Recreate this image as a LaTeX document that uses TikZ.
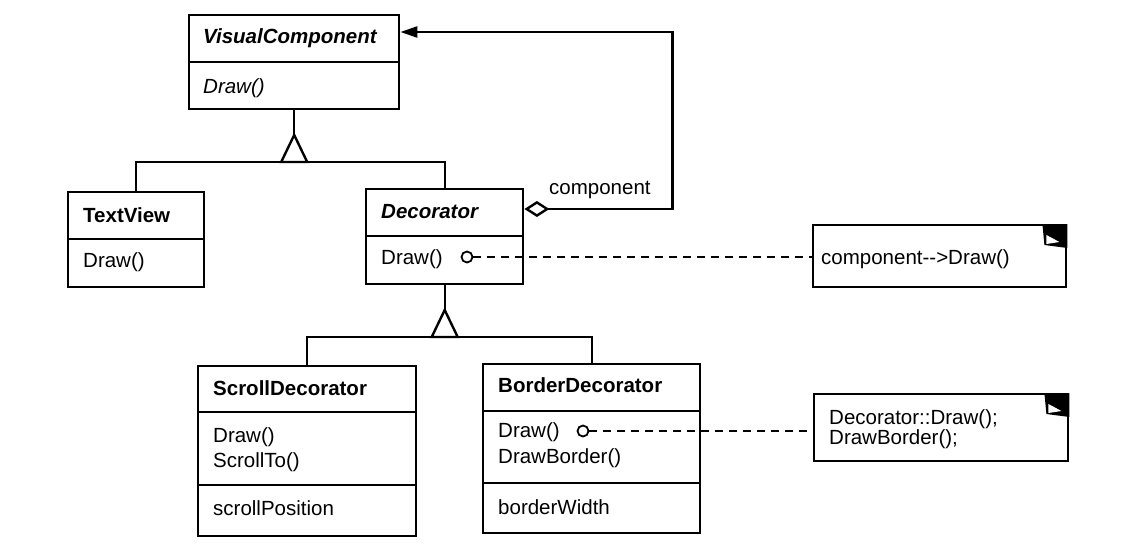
\documentclass[tikz,border=0pt]{standalone}
\usepackage{fontspec}
\setmainfont{Liberation Sans}
\usetikzlibrary{positioning,arrows.meta,calc}

\newcommand{\umlfont}{\fontsize{20.5pt}{25pt}\selectfont}
\newcommand{\notefont}{\fontsize{20.5pt}{18.5pt}\selectfont}

\begin{document}
\begin{tikzpicture}[x=1pt, y=-1pt, line width=2.4pt,
  cls/.style={draw, inner sep=0pt, anchor=north west},
  note/.style={draw, inner sep=0pt, anchor=north west},
  lbl/.style={anchor=west, inner sep=0pt},
  title/.style={lbl, font=\umlfont\bfseries},
  ititle/.style={lbl, font=\umlfont\bfseries\itshape},
  op/.style={lbl, font=\umlfont},
  iop/.style={lbl, font=\umlfont\itshape},
  hook/.style={circle, draw, fill=white, line width=1.8pt, minimum size=11pt, inner sep=0pt},
  link/.style={dash pattern=on 8pt off 6pt},
  isa/.style={draw, fill=white, line join=miter},
  aggr/.style={{Diamond[open, length=25pt, width=16pt]}-{Triangle[length=17pt, width=11pt]}}]
\useasboundingbox (0,0) rectangle (1125,552);

% class boxes
\node[cls, minimum width=210pt, minimum height=94pt] (vc) at (188,14) {};
\node[cls, minimum width=136pt, minimum height=95pt] (tv) at (67,191) {};
\node[cls, minimum width=157pt, minimum height=95pt] (dec) at (365,188) {};
\node[cls, minimum width=218pt, minimum height=170pt] (sd) at (197,365) {};
\node[cls, minimum width=217pt, minimum height=169pt] (bd) at (482,363) {};
\foreach \n/\y in {vc/62, tv/239, dec/236, sd/412, sd/485, bd/411, bd/483}
  \draw (\n.west |- 0,\y) -- (\n.east |- 0,\y);

% names and operations
\node[ititle] (vcname) at (202,38) {VisualComponent};
\node[iop] (vcop) at (202,88) {Draw()};
\node[title] (tvname) at (82,215) {TextView};
\node[op] (tvop) at (82,262) {Draw()};
\node[ititle] (decname) at (380,212) {Decorator};
\node[op] (decop) at (380,259) {Draw()};
\node[title] (sdname) at (212,388) {ScrollDecorator};
\node[op] (sdop1) at (212,437) {Draw()};
\node[op] (sdop2) at (212,462) {ScrollTo()};
\node[op] (sdattr) at (212,508) {scrollPosition};
\node[title] (bdname) at (497,385) {BorderDecorator};
\node[op] (bdop1) at (497,432) {Draw()};
\node[op] (bdop2) at (497,458) {DrawBorder()};
\node[op] (bdattr) at (497,507) {borderWidth};

% inheritance
\coordinate (tip1) at (vc.south |- 0,135);
\draw (vc.south) -- (tip1);
\draw (tv.north) |- (tip1 |- 0,162) -| (dec.north);
\draw[isa] (tip1) -- ++(-13,27) -- ++(26,0) -- cycle;
\coordinate (tip2) at (dec.south |- 0,310);
\draw (dec.south) -- (tip2);
\draw (sd.north) |- (tip2 |- 0,337) -| (bd.north);
\draw[isa] (tip2) -- ++(-13,27) -- ++(26,0) -- cycle;

% aggregation
\draw[aggr] ($(dec.north east)+(0,21)$) -- ++(148,0) |- ($(vc.north east)+(0,18)$);
\node[op] (role) at (548,190) {component};

% notes
\node[note, minimum width=253pt, minimum height=62pt] (note1) at (812,224) {};
\node[op] (note1txt) at (820,259) {component-{}->Draw()};
\node[note, minimum width=254pt, minimum height=67pt] (note2) at (813,393) {};
\node[lbl, font=\notefont, align=left] (note2txt) at (828,429) {Decorator::Draw();\\DrawBorder();};
\foreach \n in {note1, note2} {
  \fill ($(\n.north east)+(-25,0)$) -- (\n.north east) -- ++(0,24)
    -- ($(\n.north east)+(-23,21)$) -- cycle;
  \fill[white] ($(\n.north east)+(-21,11)$) -- ++(0,9) -- ++(13,-2) -- cycle;
}
\node[hook] (h1) at (467,257) {};
\draw[link] (h1) -- (h1 -| note1.west);
\node[hook] (h2) at (583,431) {};
\draw[link] (h2) -- (h2 -| note2.west);
\end{tikzpicture}
\end{document}
